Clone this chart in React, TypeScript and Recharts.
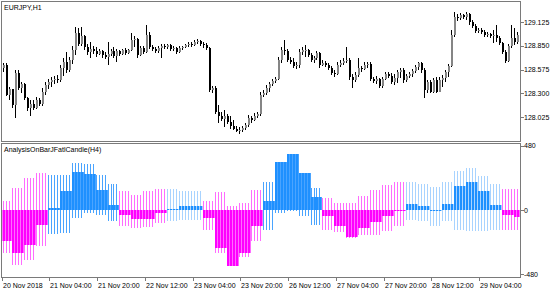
import React from 'react';
import { ComposedChart, Bar, XAxis, YAxis } from 'recharts';

// ---------- data ----------
const firstOpen = 128.525;
const closes = [
  128.594, 128.629, 128.282, 128.352, 128.167, 128.536, 128.363, 128.409, 128.248, 128.132,
  128.178, 128.132, 128.225, 128.178, 128.317, 128.398, 128.432, 128.456, 128.467, 128.456,
  128.594, 128.663, 128.571, 128.686, 128.802, 128.998, 128.871, 128.963, 128.836, 128.779,
  128.813, 128.790, 128.756, 128.790, 128.744, 128.721, 128.756, 128.790, 128.733, 128.790,
  128.756, 128.802, 128.767, 128.802, 128.917, 128.929, 128.744, 128.825, 128.779, 128.975,
  128.836, 128.813, 128.790, 128.825, 128.848, 128.836, 128.860, 128.813, 128.825, 128.779,
  128.825, 128.836, 128.860, 128.871, 128.860, 128.894, 128.906, 128.871, 128.860, 128.825,
  128.340, 128.363, 128.086, 128.040, 128.005, 128.040, 127.971, 127.924, 127.890, 127.867,
  127.878, 127.901, 127.936, 128.017, 127.994, 128.040, 128.063, 128.282, 128.305, 128.363,
  128.409, 128.444, 128.467, 128.686, 128.802, 128.790, 128.686, 128.663, 128.617, 128.629,
  128.779, 128.802, 128.802, 128.744, 128.686, 128.709, 128.767, 128.629, 128.652, 128.629,
  128.594, 128.536, 128.525, 128.629, 128.652, 128.675, 128.686, 128.490, 128.456, 128.513,
  128.594, 128.583, 128.629, 128.640, 128.467, 128.444, 128.467, 128.386, 128.467, 128.525,
  128.502, 128.432, 128.479, 128.548, 128.571, 128.456, 128.502, 128.525, 128.559, 128.606,
  128.652, 128.571, 128.340, 128.432, 128.317, 128.456, 128.317, 128.456, 128.479, 128.548,
  128.617, 128.975, 129.183, 129.171, 129.206, 129.183, 129.217, 129.125, 129.079, 129.021,
  129.033, 129.010, 128.975, 128.987, 128.963, 128.975, 128.940, 128.883, 128.779, 128.675,
  128.848, 128.940, 128.894, 128.975,
];
const highs = [
  128.663, 128.652, 128.652, 128.375, 128.305, 128.571, 128.571, 128.432, 128.421, 128.259,
  128.225, 128.225, 128.259, 128.248, 128.363, 128.432, 128.467, 128.490, 128.502, 128.513,
  128.629, 128.709, 128.779, 128.721, 128.848, 129.067, 129.056, 129.067, 128.975, 128.871,
  128.894, 128.848, 128.836, 128.813, 128.802, 128.779, 128.894, 128.813, 128.836, 128.813,
  128.802, 128.813, 128.825, 128.813, 128.998, 128.963, 128.940, 128.848, 128.848, 129.090,
  129.010, 128.860, 128.836, 128.848, 128.871, 128.871, 128.871, 128.871, 128.848, 128.836,
  128.848, 128.848, 128.871, 128.894, 128.894, 128.917, 128.929, 128.917, 128.894, 128.883,
  128.836, 128.386, 128.386, 128.167, 128.086, 128.109, 128.063, 128.040, 127.994, 127.924,
  127.913, 127.924, 127.959, 128.051, 128.040, 128.075, 128.086, 128.317, 128.340, 128.398,
  128.432, 128.467, 128.490, 128.721, 128.836, 128.917, 128.813, 128.721, 128.709, 128.663,
  128.813, 128.836, 128.860, 128.813, 128.767, 128.733, 128.790, 128.779, 128.686, 128.675,
  128.652, 128.617, 128.571, 128.663, 128.686, 128.709, 128.836, 128.709, 128.525, 128.548,
  128.709, 128.617, 128.663, 128.663, 128.663, 128.490, 128.502, 128.479, 128.490, 128.548,
  128.548, 128.536, 128.525, 128.571, 128.594, 128.594, 128.525, 128.548, 128.583, 128.629,
  128.663, 128.663, 128.594, 128.456, 128.456, 128.479, 128.490, 128.490, 128.513, 128.571,
  128.640, 129.033, 129.240, 129.217, 129.229, 129.217, 129.240, 129.229, 129.148, 129.102,
  129.056, 129.056, 129.033, 129.010, 128.998, 129.033, 129.090, 128.963, 128.894, 128.802,
  128.871, 129.090, 129.056, 129.010,
];
const lows = [
  128.502, 128.548, 128.271, 128.225, 128.132, 128.017, 128.340, 128.305, 128.225, 128.098,
  128.040, 128.109, 128.121, 128.155, 128.155, 128.282, 128.352, 128.375, 128.409, 128.421,
  128.432, 128.502, 128.536, 128.548, 128.640, 128.744, 128.848, 128.848, 128.802, 128.744,
  128.709, 128.756, 128.721, 128.744, 128.709, 128.698, 128.629, 128.733, 128.709, 128.663,
  128.733, 128.744, 128.744, 128.756, 128.790, 128.836, 128.709, 128.733, 128.756, 128.767,
  128.813, 128.790, 128.767, 128.767, 128.709, 128.813, 128.813, 128.790, 128.790, 128.756,
  128.767, 128.802, 128.825, 128.836, 128.836, 128.848, 128.871, 128.848, 128.825, 128.802,
  128.317, 128.305, 128.063, 127.959, 127.982, 127.913, 127.948, 127.890, 127.878, 127.855,
  127.832, 127.855, 127.878, 127.913, 127.959, 127.982, 128.017, 128.040, 128.259, 128.282,
  128.317, 128.386, 128.421, 128.456, 128.652, 128.744, 128.663, 128.640, 128.594, 128.583,
  128.594, 128.744, 128.721, 128.721, 128.663, 128.652, 128.686, 128.594, 128.617, 128.606,
  128.571, 128.513, 128.490, 128.513, 128.606, 128.629, 128.652, 128.456, 128.363, 128.432,
  128.490, 128.548, 128.571, 128.594, 128.444, 128.421, 128.409, 128.363, 128.363, 128.456,
  128.479, 128.409, 128.398, 128.421, 128.479, 128.421, 128.432, 128.479, 128.490, 128.536,
  128.571, 128.536, 128.248, 128.305, 128.305, 128.305, 128.305, 128.317, 128.375, 128.432,
  128.490, 128.606, 128.952, 129.137, 129.148, 129.160, 129.148, 129.090, 129.056, 128.998,
  128.998, 128.987, 128.952, 128.952, 128.940, 128.883, 128.894, 128.860, 128.756, 128.652,
  128.663, 128.825, 128.860, 128.871,
];

// H4 indicator blocks (each spans 4 hourly bars)
const blockBody = [
  -235, -322, -260, -110, 15, 140, 285, 272, 152, 40,
  -35, -68, -68, -22, 10, 32, 32, -60, -285, -422,
  -322, -118, 65, 358, 422, 278, 98, -42, -122, -202,
  -135, -92, -42, -5, 45, 28, 3, 48, 178, 208,
  140, 40, -35, -55,
];
const blockHigh = [
  65, 165, 240, 278, 265, 265, 352, 347, 265, 195,
  140, 115, 140, 160, 160, 140, 140, 70, 132, 28,
  52, 152, 208, 358, 422, 278, 165, 90, 52, 52,
  108, 152, 190, 208, 210, 195, 172, 210, 295, 315,
  258, 198, 160, 160,
];
const blockLow = [
  -322, -410, -372, -272, -180, -172, -60, -22, -35, -85,
  -122, -135, -130, -98, -85, -72, -78, -148, -322, -422,
  -352, -235, -148, -22, -10, -48, -110, -152, -168, -210,
  -185, -185, -160, -118, -72, -85, -118, -85, -148, -160,
  -160, -148, -148, -148,
];
const blockTone = [
  'S', 'S', 'S', 'S', 'S', 'S', 'S', 'S', 'S', 'S',
  'S', 'S', 'S', 'S', 'L', 'L', 'L', 'S', 'S', 'S',
  'S', 'S', 'S', 'S', 'S', 'S', 'S', 'S', 'S', 'S',
  'S', 'S', 'S', 'S', 'L', 'L', 'L', 'L', 'L', 'L',
  'L', 'L', 'S', 'S',
];

const timeTicks = [0, 16, 32, 48, 64, 80, 96, 112, 128, 144, 160];
const timeLabels = [
  '20 Nov 2018', '21 Nov 04:00', '21 Nov 20:00', '22 Nov 12:00', '23 Nov 04:00',
  '23 Nov 20:00', '26 Nov 12:00', '27 Nov 04:00', '27 Nov 20:00', '28 Nov 12:00', '29 Nov 04:00',
];
const priceTicks = [128.025, 128.3, 128.575, 128.85, 129.125];
const oscTicks = [-480, 0, 480];

// ---------- derived tables ----------
const candles = closes.map((c, i) => ({
  i,
  open: i === 0 ? firstOpen : closes[i - 1],
  close: c,
  high: highs[i],
  low: lows[i],
  range: [lows[i], highs[i]],
}));

const oscData = closes.map((_, i) => {
  const b = Math.floor(i / 4);
  return {
    i,
    body: blockBody[b],
    range: [blockLow[b], blockHigh[b]],
    tone: blockTone[b],
  };
});

// ---------- styles ----------
const FONT = '"Liberation Sans", Arial, sans-serif';
const TXT = '#000000';
const BORDER = '#7a7a7a';
const X_DOMAIN: [number, number] = [0.156, 174];
const PLOT_RIGHT = 521;

const CandleShape = (props: any) => {
  const { x, y, width, height, payload } = props;
  if (x == null || y == null) return null;
  const { open, close, high, low } = payload;
  const ppu = height / (high - low);
  const yOf = (v: number) => y + (high - v) * ppu;
  const cx = Math.round(x + width / 2);
  const yh = Math.round(y);
  const yl = Math.round(y + height);
  const top = Math.round(yOf(Math.max(open, close)));
  const bot = Math.round(yOf(Math.min(open, close)));
  const bull = close >= open;
  return (
    <g>
      <rect x={cx - 1} y={yh} width={1} height={Math.max(1, yl - yh)} fill="#000" />
      <rect x={cx - 1} y={top} width={2} height={Math.max(1, bot - top)} fill={bull ? '#858585' : '#000'} />
    </g>
  );
};

const OscShape = (props: any) => {
  const { x, y, width, height, payload } = props;
  if (x == null || y == null) return null;
  const [lo, hi] = payload.range;
  const ppu = height / (hi - lo);
  const yOf = (v: number) => y + (hi - v) * ppu;
  const cx = Math.round(x + width / 2);
  const yt = Math.round(y);
  const yb = Math.round(y + height);
  const y0 = Math.round(yOf(0));
  const yv = Math.round(yOf(payload.body));
  const pos = payload.body >= 0;
  const wick = pos ? (payload.tone === 'L' ? '#a8d3ff' : '#4aa4ff') : '#ff6cff';
  const bodyCol = pos ? '#1e90ff' : '#ff00ff';
  return (
    <g>
      <rect x={cx - 1} y={yt} width={1} height={Math.max(1, yb - yt)} fill={wick} />
      <rect x={cx - 1} y={Math.min(y0, yv)} width={2} height={Math.max(1, Math.abs(yv - y0))} fill={bodyCol} />
      <rect x={cx + 1} y={Math.min(y0, yv)} width={1} height={Math.max(1, Math.abs(yv - y0))} fill={wick} />
    </g>
  );
};

const PriceTick = (props: any) => {
  const { x, y, payload } = props;
  const yy = Math.round(y) + 0.5;
  return (
    <g>
      <line x1={x} x2={x + 3} y1={yy} y2={yy} stroke={BORDER} strokeWidth={1} />
      <text x={x + 3} y={y + 2.5} fontSize={7} fontFamily={FONT} fill={TXT}>
        {Number(payload.value).toFixed(3)}
      </text>
    </g>
  );
};

const OscTick = (props: any) => {
  const { x, y, payload } = props;
  const yy = Math.round(y) + 0.5;
  return (
    <g>
      <line x1={x} x2={x + 3} y1={yy} y2={yy} stroke={BORDER} strokeWidth={1} />
      <text x={x + 3} y={y + 2.5} fontSize={7} fontFamily={FONT} fill={TXT}>
        {String(payload.value)}
      </text>
    </g>
  );
};

const TimeTick = (props: any) => {
  const { x, y, payload } = props;
  const idx = timeTicks.indexOf(payload.value);
  const xx = Math.round(x) + 0.5;
  return (
    <g>
      <line x1={xx} x2={xx} y1={y} y2={y + 4} stroke={BORDER} strokeWidth={1} />
      <text x={xx + 0.5} y={y + 11} fontSize={7} fontFamily={FONT} fill={TXT}>
        {idx >= 0 ? timeLabels[idx] : ''}
      </text>
    </g>
  );
};

export default function App() {
  return (
    <div style={{ position: 'absolute', left: 0, top: 0, width: 560, height: 294, background: '#fff' }}>
      <div style={{ position: 'absolute', left: 0, top: 0 }}>
        <ComposedChart
          width={560}
          height={294}
          data={candles}
          margin={{ top: 2, right: 0, bottom: 152, left: 2 }}
        >
          <XAxis dataKey="i" type="number" domain={X_DOMAIN} allowDataOverflow hide />
          <YAxis
            orientation="right"
            width={560 - PLOT_RIGHT}
            type="number"
            domain={[127.74, 129.356]}
            allowDataOverflow
            ticks={priceTicks}
            interval={0}
            axisLine={false}
            tickLine={false}
            tickSize={0}
            tickMargin={0}
            tick={<PriceTick />}
          />
          <Bar dataKey="range" barSize={2} isAnimationActive={false} shape={<CandleShape />} />
        </ComposedChart>
      </div>
      <div style={{ position: 'absolute', left: 0, top: 0 }}>
        <ComposedChart
          width={560}
          height={294}
          data={oscData}
          margin={{ top: 143, right: 0, bottom: 0, left: 2 }}
        >
          <XAxis
            dataKey="i"
            type="number"
            domain={X_DOMAIN}
            allowDataOverflow
            ticks={timeTicks}
            interval={0}
            height={17}
            axisLine={false}
            tickLine={false}
            tickSize={0}
            tickMargin={0}
            tick={<TimeTick />}
          />
          <YAxis
            orientation="right"
            width={560 - PLOT_RIGHT}
            type="number"
            domain={[-502, 502]}
            allowDataOverflow
            ticks={oscTicks}
            interval={0}
            axisLine={false}
            tickLine={false}
            tickSize={0}
            tickMargin={0}
            tick={<OscTick />}
          />
          <Bar dataKey="range" barSize={2} isAnimationActive={false} shape={<OscShape />} />
        </ComposedChart>
      </div>
      <svg
        width={560}
        height={294}
        style={{ position: 'absolute', left: 0, top: 0, pointerEvents: 'none' }}
      >
        <rect x={1.5} y={1.5} width={519} height={140} fill="none" stroke={BORDER} strokeWidth={1} />
        <rect x={1.5} y={143.5} width={519} height={134} fill="none" stroke={BORDER} strokeWidth={1} />
        <text x={4} y={9.5} fontSize={7} fontFamily={FONT} fill={TXT}>EURJPY,H1</text>
        <text x={4} y={152} fontSize={7} fontFamily={FONT} fill={TXT}>AnalysisOnBarJFatlCandle(H4)</text>
      </svg>
    </div>
  );
}
